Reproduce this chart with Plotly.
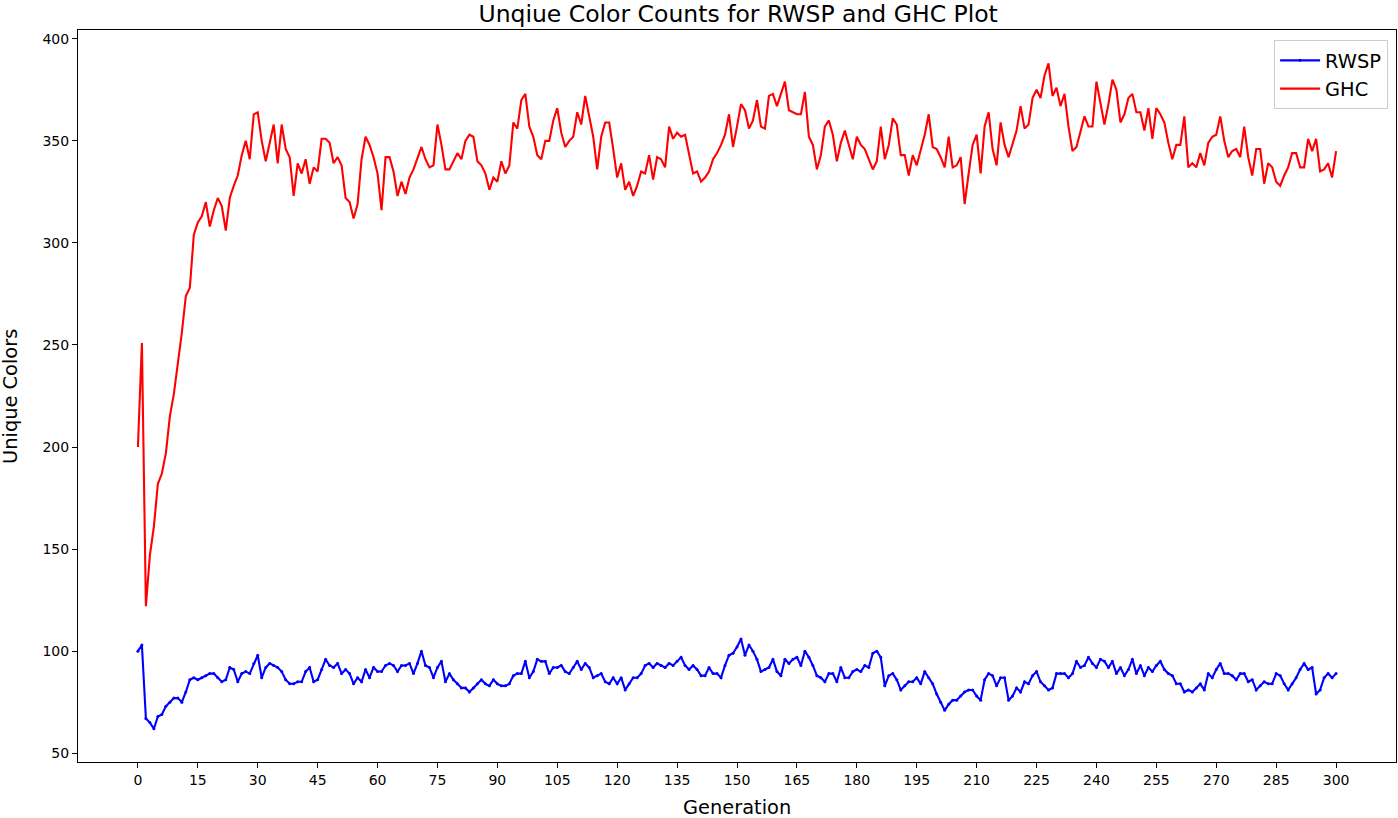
import plotly.graph_objects as go

generations = list(range(301))

ghc = [
    200, 251, 122, 147, 161, 182, 187, 197, 215, 226,
    241, 256, 274, 278, 304, 310, 313, 320, 308, 316,
    322, 318, 306, 322, 328, 333, 343, 350, 341, 363,
    364, 350, 340, 349, 358, 339, 358, 346, 342, 323,
    339, 334, 341, 329, 337, 335, 351, 351, 349, 339,
    342, 338, 322, 320, 312, 319, 341, 352, 348, 342,
    334, 316, 342, 342, 335, 323, 330, 324, 332, 336,
    341, 347, 341, 337, 338, 358, 348, 336, 336, 340,
    344, 341, 350, 353, 352, 340, 338, 334, 326, 332,
    330, 340, 334, 338, 359, 356, 370, 373, 357, 352,
    343, 341, 350, 350, 360, 366, 354, 347, 350, 352,
    364, 358, 372, 362, 352, 336, 352, 359, 359, 346,
    332, 339, 326, 330, 323, 328, 335, 334, 343, 331,
    342, 341, 337, 357, 351, 354, 352, 353, 344, 334,
    335, 330, 332, 335, 341, 344, 348, 353, 363, 347,
    357, 368, 365, 356, 360, 370, 357, 356, 372, 373,
    367, 373, 379, 365, 364, 363, 363, 374, 352, 348,
    336, 343, 357, 360, 353, 340, 349, 355, 348, 341,
    352, 348, 346, 341, 336, 340, 357, 341, 348, 361,
    358, 343, 343, 333, 343, 338, 345, 353, 363, 347,
    346, 342, 337, 352, 337, 338, 342, 319, 334, 348,
    353, 334, 357, 364, 346, 338, 359, 348, 342, 348,
    355, 367, 356, 358, 371, 375, 371, 382, 388, 372,
    376, 367, 373, 357, 345, 347, 354, 362, 357, 357,
    379, 368, 358, 368, 380, 375, 359, 363, 371, 373,
    364, 364, 355, 366, 351, 366, 363, 359, 349, 341,
    348, 348, 362, 337, 339, 337, 344, 338, 349, 352,
    353, 362, 350, 342, 345, 346, 342, 357, 342, 333,
    346, 346, 329, 339, 337, 330, 328, 333, 337, 344,
    344, 337, 337, 351, 345, 351, 335, 336, 339, 332,
    345,
]

rwsp = [
    100, 103, 67, 65, 62, 68, 69, 73, 75, 77,
    77, 75, 80, 86, 87, 86, 87, 88, 89, 89,
    87, 85, 86, 92, 91, 85, 89, 90, 89, 94,
    98, 87, 92, 94, 93, 92, 90, 86, 84, 84,
    85, 85, 90, 92, 85, 86, 91, 96, 93, 92,
    94, 89, 91, 89, 84, 87, 85, 91, 87, 92,
    90, 90, 93, 94, 93, 90, 93, 93, 94, 89,
    94, 100, 93, 92, 87, 92, 95, 85, 89, 86,
    84, 82, 82, 80, 82, 84, 86, 84, 83, 86,
    84, 83, 83, 84, 88, 89, 89, 95, 87, 90,
    96, 95, 95, 89, 92, 92, 93, 90, 89, 92,
    95, 91, 94, 92, 87, 88, 89, 85, 84, 87,
    84, 87, 81, 84, 87, 87, 89, 93, 94, 92,
    94, 93, 92, 94, 93, 95, 97, 93, 91, 93,
    91, 88, 88, 92, 89, 89, 87, 93, 98, 99,
    102, 106, 98, 103, 100, 96, 90, 91, 92, 96,
    90, 88, 96, 94, 96, 97, 93, 100, 97, 93,
    88, 87, 85, 89, 89, 85, 92, 87, 87, 90,
    91, 90, 93, 92, 99, 100, 97, 83, 88, 89,
    86, 81, 83, 85, 85, 87, 84, 90, 87, 84,
    79, 75, 71, 74, 76, 76, 78, 80, 81, 81,
    78, 76, 86, 89, 88, 83, 87, 87, 76, 78,
    82, 80, 85, 84, 88, 90, 85, 83, 81, 82,
    89, 89, 89, 87, 89, 95, 92, 93, 97, 94,
    92, 96, 95, 92, 95, 89, 92, 88, 91, 96,
    89, 93, 88, 92, 90, 93, 95, 91, 89, 88,
    84, 84, 80, 81, 80, 82, 84, 81, 89, 87,
    91, 94, 89, 89, 88, 86, 89, 89, 85, 86,
    81, 83, 85, 84, 84, 89, 88, 84, 81, 84,
    87, 91, 94, 91, 92, 79, 81, 87, 89, 87,
    89,
]

x_ticks = list(range(0, 301, 15))
y_ticks = list(range(50, 401, 50))

FONT = "DejaVu Sans"

fig = go.Figure()
fig.add_trace(go.Scatter(
    x=generations, y=rwsp, name="RWSP", mode="lines+markers",
    legendgroup="a",
    line=dict(color="#0000ff", width=2.1),
    marker=dict(color="#0000ff", size=3),
))
fig.add_trace(go.Scatter(
    x=generations, y=ghc, name="GHC", mode="lines",
    legendgroup="b",
    line=dict(color="#ff0000", width=2.1),
))

axis_common = dict(
    showgrid=False, zeroline=False, showline=True, linecolor="black",
    linewidth=1, mirror=True, ticks="outside", ticklen=5, tickwidth=1,
    tickcolor="black", tickfont=dict(family=FONT, size=14, color="black"),
    automargin=False,
)

fig.update_layout(
    width=1398, height=818,
    margin=dict(l=78, r=2, t=30, b=56),
    paper_bgcolor="white", plot_bgcolor="white",
    font=dict(family=FONT, size=14, color="black"),
    title=dict(text="Unqiue Color Counts for RWSP and GHC Plot",
               font=dict(family=FONT, size=23.5, color="black"),
               x=0.528, xanchor="center", y=0.983, yanchor="middle",
               yref="container"),
    xaxis=dict(range=[-15, 315], tickvals=x_ticks, **axis_common),
    yaxis=dict(range=[45.7, 404.3], tickvals=y_ticks, **axis_common),
    legend=dict(x=0.994, y=0.986, xanchor="right", yanchor="top",
                bgcolor="rgba(255,255,255,0.8)", bordercolor="#cccccc",
                borderwidth=1, font=dict(family=FONT, size=19.4),
                itemwidth=40, tracegroupgap=0, traceorder="grouped"),
    annotations=[
        dict(text="Generation", xref="paper", yref="paper",
             x=0.5, y=-0.0628, xanchor="center", yanchor="middle",
             showarrow=False, font=dict(family=FONT, size=19.4, color="black")),
        dict(text="Unique Colors", xref="paper", yref="paper",
             x=-0.0516, y=0.5, xanchor="center", yanchor="middle",
             textangle=-90, showarrow=False,
             font=dict(family=FONT, size=19.4, color="black")),
    ],
)

fig.write_html("out.html",
               config={"displayModeBar": False},
               post_script="document.body.style.margin='0px';")
